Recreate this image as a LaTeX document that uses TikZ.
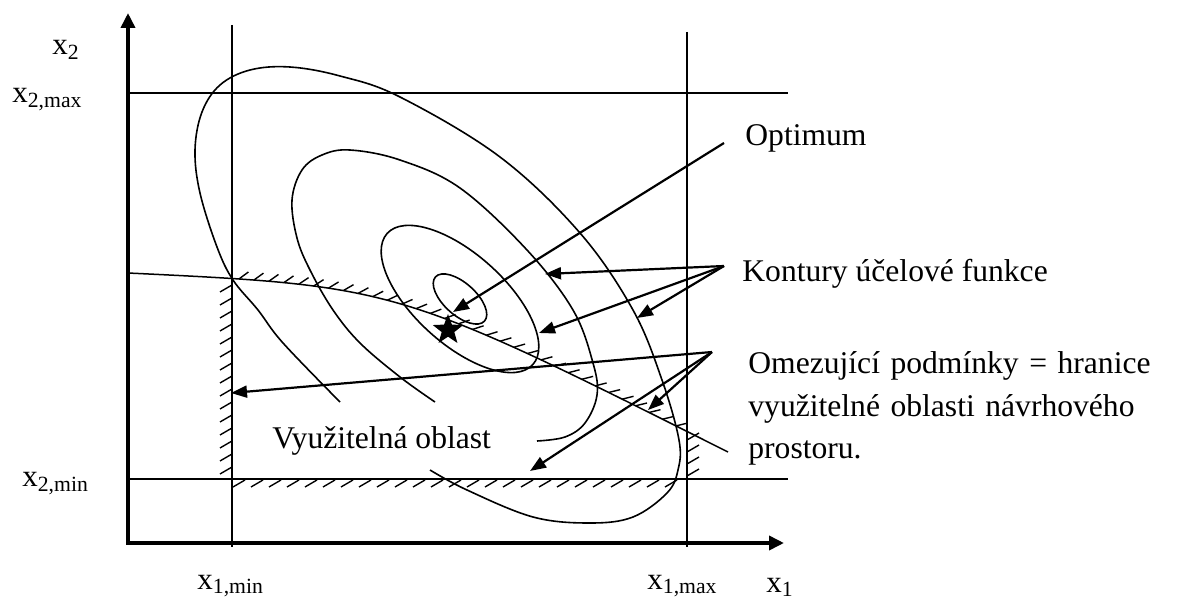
\documentclass[tikz,border=0pt]{standalone}
\usepackage{fontspec}
\setmainfont{Liberation Serif}
\usetikzlibrary{arrows.meta,shapes.geometric,decorations.markings}

\begin{document}
\begin{tikzpicture}[
  x=0.5pt, y=-0.5pt,
  axis/.style={line width=1.8pt, {Triangle[length=7.5pt,width=7pt]}-{Triangle[length=7.5pt,width=7pt]}},
  bound/.style={line width=0.75pt},
  contour/.style={line width=0.8pt},
  hatch/.style={line width=0.7pt},
  ptr/.style={line width=1.1pt, -{Triangle[length=8pt,width=6pt]}},
  txt/.style={font=\fontsize{15.8}{21.5}\selectfont, inner sep=0pt},
  axlbl/.style={font=\fontsize{15.5}{18}\selectfont, inner sep=0pt},
  hatchcurve/.style={postaction={decorate, decoration={markings,
      mark=between positions 0.175 and 0.93 step 7.5pt with {\draw[hatch] (0pt,0pt) -- (4.5pt,3.8pt);}}}}
]
\useasboundingbox (0,0) rectangle (1180,599);

% axes and bounds
\coordinate (orig) at (128,543);
\coordinate (ytop) at (128,13);
\coordinate (xend) at (784,543);
\draw[axis] (ytop) -- (orig) -- (xend);

\coordinate (x1minT) at (232,25);
\coordinate (x1minB) at (232,547);
\coordinate (x1maxT) at (687,32);
\coordinate (x1maxB) at (687,547);
\coordinate (x2maxL) at (128,93);
\coordinate (x2maxR) at (788,93);
\coordinate (x2minL) at (128,479);
\coordinate (x2minR) at (788,479);
\draw[bound] (x1minT) -- (x1minB);
\draw[bound] (x1maxT) -- (x1maxB);
\draw[bound] (x2maxL) -- (x2maxR);
\draw[bound] (x2minL) -- (x2minR);

% constraint curve
\coordinate (limA) at (128,273);
\coordinate (limC) at (397,286);
\coordinate (limB) at (728,452);
\draw[bound, hatchcurve] (limA) .. controls (limC) .. (limB);

% hatching
\foreach \y in {285,298,...,475} \draw[hatch] (232,\y) -- ++(-12,7);
\foreach \x in {245,263,...,690} \draw[hatch] (\x,480) -- ++(-12,7);
\foreach \y in {440,452,...,480} \draw[hatch] (687,\y) -- ++(12,-7);

% contours
\coordinate (ctr) at (460,299);
\draw[contour, rotate around={-42:(ctr)}] (ctr) ellipse [x radius=33, y radius=16];
\draw[contour, rotate around={-42:(ctr)}] (ctr) ellipse [x radius=98, y radius=45];
\draw[contour] plot[smooth, tension=0.6] coordinates {(435,402) (400,377) (360,343) (333,310) (310,270) (297,238) (292,200) (302,170) (322,155) (350,150) (400,160) (460,188) (527,250) (573,310) (593,363) (597,395) (585,423) (565,437) (537,441)};
\draw[contour] plot[smooth, tension=0.6] coordinates {(340,402) (283,343) (258,310) (233,280) (217,247) (200,193) (195,150) (202,112) (220,85) (250,70) (290,67) (340,76) (400,97) (500,157) (580,233) (633,310) (662,380) (679,440) (678,470) (667,493) (633,517) (590,523) (533,517) (467,490) (430,470)};

% optimum
\node[star, star points=5, star point ratio=2.4, fill, inner sep=0pt, minimum size=16pt] (opti) at (448,330) {};

% labels
\node[txt, anchor=base west] (opt) at (745,146) {Optimum};
\node[txt, anchor=base west] (kon) at (742,282) {Kontury účelové funkce};
\node[txt, anchor=base west, text width=214.5pt] (omez) at (748,373)
  {\makebox[\linewidth][s]{Omezující podmínky = hranice}\\
   \makebox[\linewidth][s]{využitelné oblasti návrhového}\\
   prostoru.};
\node[txt, anchor=base west] (vyuz) at (272,448) {Využitelná oblast};

\node[axlbl, anchor=base west] (lx2) at (52,55) {x\textsubscript{2}};
\node[axlbl, anchor=base west] (lx2max) at (12,103) {x\textsubscript{2,max}};
\node[axlbl, anchor=base west] (lx2min) at (22,487) {x\textsubscript{2,min}};
\node[axlbl, anchor=base west] (lx1min) at (197,589) {x\textsubscript{1,min}};
\node[axlbl, anchor=base west] (lx1max) at (647,589) {x\textsubscript{1,max}};
\node[axlbl, anchor=base west] (lx1) at (766,592) {x\textsubscript{1}};

% pointers
\coordinate (optFrom) at (724,143);
\coordinate (optTo) at (453,312);
\draw[ptr] (optFrom) -- (optTo);

\coordinate (konFrom) at (724,266);
\coordinate (kon1) at (545,274);
\coordinate (kon2) at (539,333);
\coordinate (kon3) at (637,318);
\draw[ptr] (konFrom) -- (kon1);
\draw[ptr] (konFrom) -- (kon2);
\draw[ptr] (konFrom) -- (kon3);

\coordinate (omFrom) at (712,352);
\coordinate (om1) at (231,393);
\coordinate (om2) at (648,410);
\coordinate (om3) at (530,471);
\draw[ptr] (omFrom) -- (om1);
\draw[ptr] (omFrom) -- (om2);
\draw[ptr] (omFrom) -- (om3);
\end{tikzpicture}
\end{document}
